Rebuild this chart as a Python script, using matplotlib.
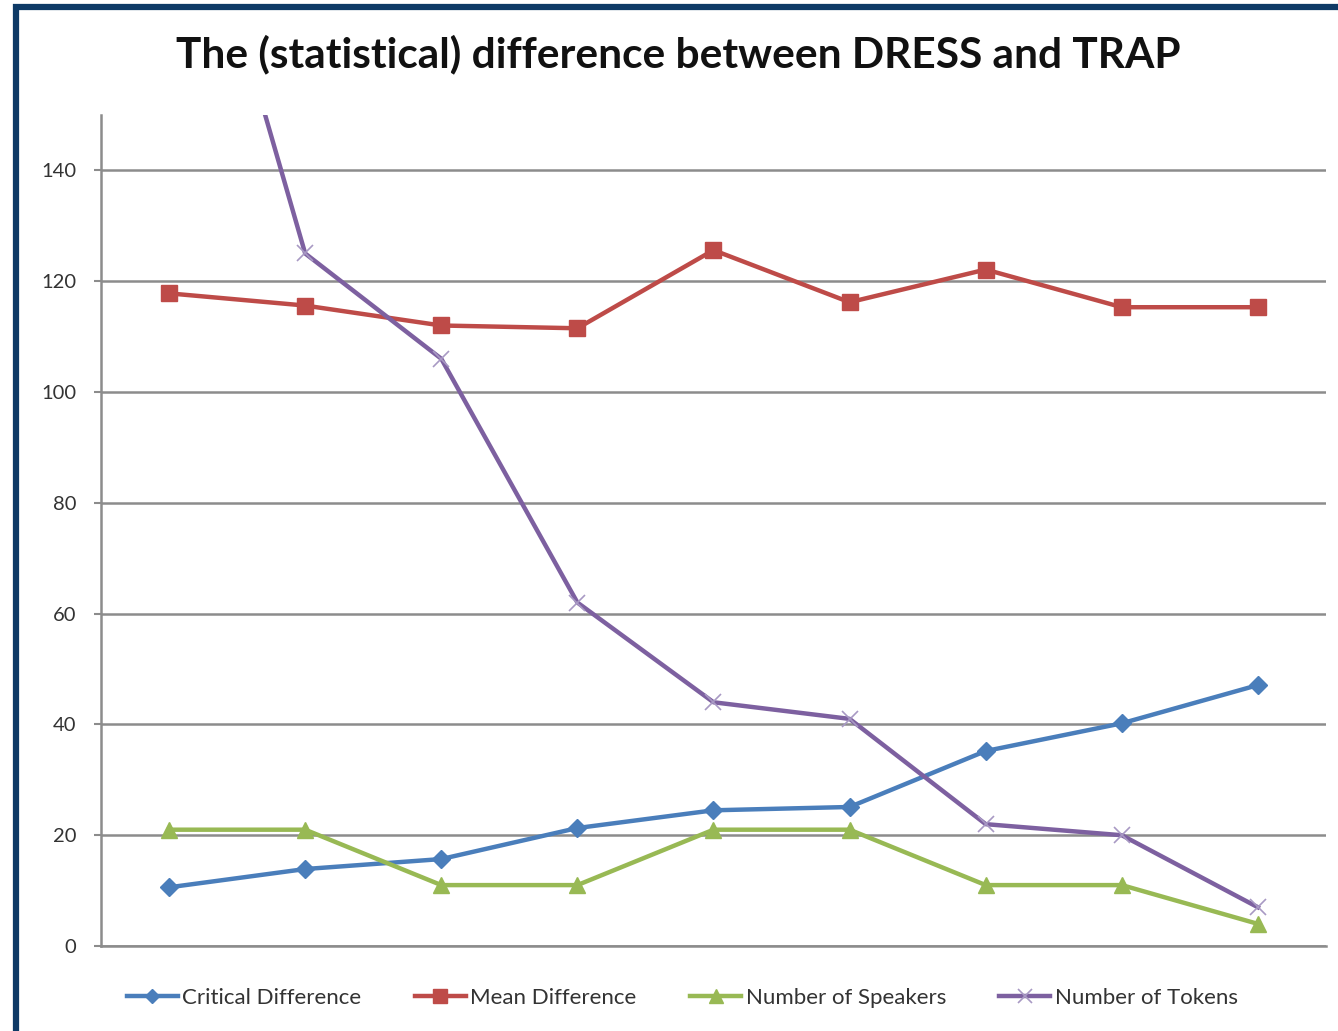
import numpy as np
import matplotlib.pyplot as plt
from matplotlib.patches import Rectangle

plt.rcParams['font.family'] = ['Lato', 'DejaVu Sans']

# nine measurement points along the x axis
points = np.arange(9)

critical_diff = [10.6, 13.9, 15.7, 21.3, 24.5, 25.1, 35.2, 40.2, 47.1]
mean_diff = [117.8, 115.6, 112.0, 111.5, 125.6, 116.2, 122.1, 115.3, 115.3]
n_speakers = [21, 21, 11, 11, 21, 21, 11, 11, 4]
n_tokens = [210, 125, 106, 62, 44, 41, 22, 20, 7]

yticks = [0, 20, 40, 60, 80, 100, 120, 140]

fig = plt.figure(figsize=(13.38, 10.31), dpi=100)
ax = fig.add_axes([0.0755, 0.0824, 0.9155, 0.8061])

ax.plot(points, critical_diff, color='#4a7ebb', lw=3.2, marker='D', ms=9,
        label='Critical Difference', zorder=3)
ax.plot(points, mean_diff, color='#be4b48', lw=3.2, marker='s', ms=12,
        label='Mean Difference', zorder=3)
ax.plot(points, n_speakers, color='#98b954', lw=3.2, marker='^', ms=12,
        label='Number of Speakers', zorder=3)
ax.plot(points, n_tokens, color='#7d60a0', lw=3.2, marker='x', ms=12,
        mew=1.2, mec='#a899c4', label='Number of Tokens', zorder=3)

ax.set_xlim(-0.5, 8.5)
ax.set_ylim(0, 150)
ax.set_yticks(yticks)
ax.set_xticks([])
ax.tick_params(axis='y', length=5, width=1.5, color='#8c8c8c',
               labelsize=14.5, labelcolor='#333333', pad=13)
ax.yaxis.grid(True, color='#8c8c8c', lw=1.8)
ax.set_axisbelow(True)
for side in ['top', 'right']:
    ax.spines[side].set_visible(False)
ax.spines['left'].set_color('#8c8c8c')
ax.spines['left'].set_linewidth(1.8)
ax.spines['bottom'].set_color('#8c8c8c')
ax.spines['bottom'].set_linewidth(1.8)

fig.text(0.507, 0.947, 'The (statistical) difference between DRESS and TRAP',
         ha='center', va='center', fontsize=30.5, fontweight='bold', color='#111111')

fig.legend(loc='center', bbox_to_anchor=(0.51, 0.032), ncol=4, frameon=False,
           fontsize=16, handlelength=2.3, handletextpad=0.2, columnspacing=2.4,
           labelcolor='#333333', markerscale=0.8)

# dark blue frame around the chart area
fig.patches.append(Rectangle((0.0118, -0.01), 1.0, 1.003, transform=fig.transFigure,
                             fill=False, edgecolor='#0e3a66', lw=4.5))

fig.savefig('out.png', dpi=100)
